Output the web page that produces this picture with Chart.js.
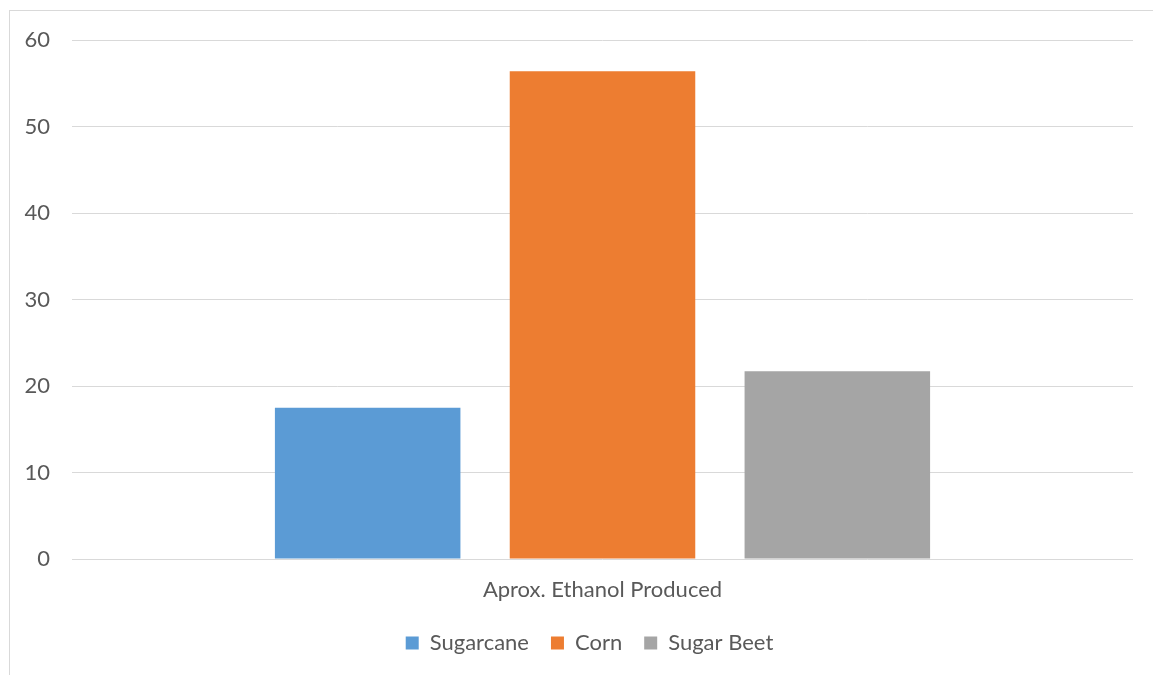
<!DOCTYPE html>
<html>
<head>
<meta charset="utf-8">
<script src="https://cdn.jsdelivr.net/npm/chart.js@4"></script>
<style>
  html, body { margin: 0; padding: 0; background: #fff; }
  #wrap { position: relative; width: 1153px; height: 675px; overflow: hidden; }
  #frame { position: absolute; left: 9px; top: 10px; width: 1200px; height: 700px; border: 1px solid #d9d9d9; box-sizing: border-box; }
  canvas { position: absolute; left: 0; top: 0; }
</style>
</head>
<body>
<div id="wrap">
  <div id="frame"></div>
  <canvas id="chart" width="1153" height="675"></canvas>
</div>
<script>
// dados do grafico
const categories = ["Aprox. Ethanol Produced"];
const seriesNames = ["Sugarcane", "Corn", "Sugar Beet"];
const sugarcane = [17.5];
const corn = [56.4];
const sugarBeet = [21.7];
const yTicks = [0, 10, 20, 30, 40, 50, 60];
const colors = ["#5b9bd5", "#ed7d31", "#a5a5a5"];

const textColor = "#595959";
const font = { family: "Lato", size: 22 };

// empurra a legenda para a direita (centro do original fica em ~590px)
const legendShift = {
  id: "legendShift",
  afterLayout(chart) {
    if (chart.legend) {
      chart.legend.left += 23;
      chart.legend.right += 23;
    }
  },
};

function buildChart() {
  const ctx = document.getElementById("chart").getContext("2d");
  new Chart(ctx, {
    type: "bar",
    data: {
      labels: categories,
      datasets: [sugarcane, corn, sugarBeet].map((vals, i) => ({
        label: seriesNames[i],
        data: vals,
        backgroundColor: colors[i],
        categoryPercentage: 0.664,
        barPercentage: 0.79,
      })),
    },
    options: {
      responsive: false,
      animation: false,
      layout: { padding: { top: 40, right: 20, left: 0, bottom: 11 } },
      plugins: {
        tooltip: { enabled: false },
        legend: {
          position: "bottom",
          labels: {
            color: textColor,
            font: font,
            boxWidth: 13,
            boxHeight: 13,
            padding: 22,
          },
        },
      },
      scales: {
        x: {
          afterFit: (scale) => { scale.height = 51; },
          grid: { display: false },
          border: { display: false },
          ticks: { color: textColor, font: font, padding: 10 },
        },
        y: {
          min: 0,
          max: 60,
          afterFit: (scale) => { scale.width = 72; },
          afterBuildTicks: (scale) => { scale.ticks = yTicks.map(v => ({ value: v })); },
          grid: { color: "#d9d9d9", drawTicks: false },
          border: { display: false },
          ticks: { color: textColor, font: font, padding: 22 },
        },
      },
    },
    plugins: [legendShift],
  });
}

window.onload = buildChart;
</script>
</body>
</html>
